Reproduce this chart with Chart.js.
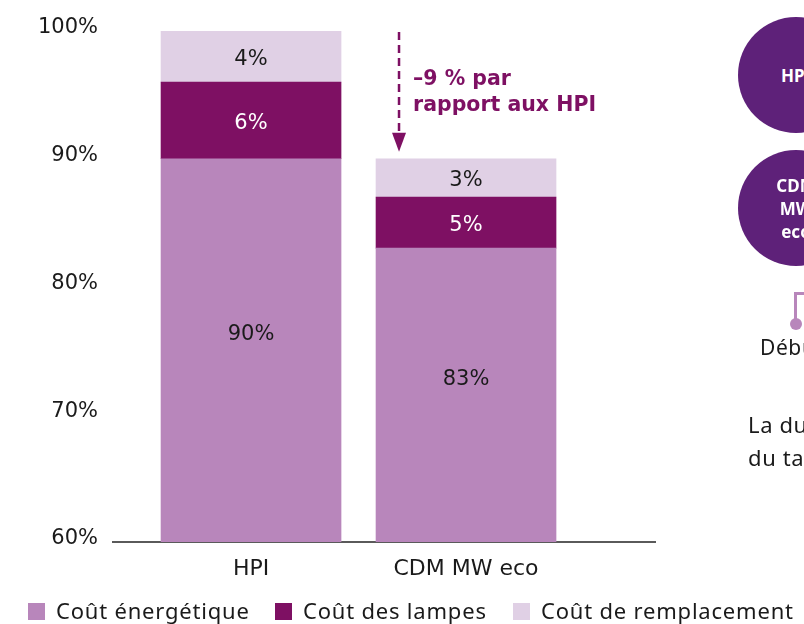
<!DOCTYPE html>
<html lang="fr">
<head>
<meta charset="utf-8">
<title>Coût total de possession : HPI / CDM MW eco</title>
<script src="https://cdn.jsdelivr.net/npm/chart.js@4"></script>
<style>
  html, body { margin: 0; padding: 0; background: #fff; }
  body {
    width: 804px; height: 624px; overflow: hidden; position: relative;
    font-family: 'Noto Sans', sans-serif; color: #1a1a1a;
  }
  #chart { position: absolute; left: 0; top: 0; }

  /* legend under the chart */
  .legend-item { position: absolute; top: 596px; font-size: 22px; line-height: 28px; letter-spacing: 0.8px; white-space: nowrap; }
  .legend-item .box { display: inline-block; width: 17px; height: 17px; margin-right: 11px; vertical-align: -1px; }

  /* cropped side panel of the original slide */
  .bulle {
    position: absolute; left: 738px; width: 116px; height: 116px; border-radius: 50%;
    background: #5e2179; color: #fff; font-weight: bold; font-size: 17px; line-height: 23px;
    display: flex; align-items: center; justify-content: center; text-align: center;
  }
  .connecteur {
    position: absolute; left: 794px; top: 292px; width: 20px; height: 28px;
    border-left: 3px solid #b886bb; border-top: 3px solid #b886bb;
  }
  .point { position: absolute; left: 790px; top: 318px; width: 12px; height: 12px; border-radius: 50%; background: #b886bb; }
  .cote { position: absolute; white-space: nowrap; letter-spacing: 0.6px; }
</style>
</head>
<body>
<canvas id="chart" width="804" height="624"></canvas>

<div class="legend-item" style="left:28px"><span class="box" style="background:#b886bb"></span>Coût énergétique</div>
<div class="legend-item" style="left:275px"><span class="box" style="background:#7e1063"></span>Coût des lampes</div>
<div class="legend-item" style="left:513px"><span class="box" style="background:#e0d0e5"></span>Coût de remplacement</div>

<div class="bulle" style="top:17px">HPI</div>
<div class="bulle" style="top:150px">CDM<br>MW<br>eco</div>
<div class="connecteur"></div>
<div class="point"></div>
<div class="cote" style="left:760px; top:333px; font-size:21px">Début</div>
<div class="cote" style="left:748px; top:408px; font-size:22px; line-height:33px">La durée<br>du taux</div>

<script>
// Categories and stacked shares (% of the HPI total cost)
const categories = ['HPI', 'CDM MW eco'];
const coutEnergetique = [90, 83];
const coutLampes = [6, 4];
const coutRemplacement = [4, 3];

// Labels printed inside the segments
const etiquettesEnergie = ['90%', '83%'];
const etiquettesLampes = ['6%', '5%'];
const etiquettesRemplacement = ['4%', '3%'];

const yTicks = [60, 70, 80, 90, 100];
const annotationLines = ['–9 % par', 'rapport aux HPI'];

const FONT = "'DejaVu Sans', sans-serif";

function toPoints(values) {
    return values.map((v, i) => ({ x: i, y: v }));
}

// Values written in the middle of every segment (visible part only)
const barLabels = {
    id: 'barLabels',
    afterDatasetsDraw(chart) {
        const ctx = chart.ctx;
        const area = chart.chartArea;
        ctx.save();
        ctx.font = '21px ' + FONT;
        ctx.textAlign = 'center';
        ctx.textBaseline = 'middle';
        chart.data.datasets.forEach((ds, di) => {
            chart.getDatasetMeta(di).data.forEach((bar, i) => {
                const p = bar.getProps(['x', 'y', 'base'], true);
                const base = Math.min(p.base, area.bottom);
                ctx.fillStyle = ds.labelColor;
                ctx.fillText(ds.valueLabels[i], p.x, (p.y + base) / 2 + ds.labelShift);
            });
        });
        ctx.restore();
    }
};

// Dashed arrow pointing at the CDM bar, with its caption
const gapArrow = {
    id: 'gapArrow',
    afterDraw(chart) {
        const ctx = chart.ctx;
        const yScale = chart.scales.y;
        const bar = chart.getDatasetMeta(2).data[1];
        const x = bar.x - bar.width / 2 + 23;
        const yTop = yScale.getPixelForValue(100) + 1;
        const yTip = yScale.getPixelForValue(coutEnergetique[1] + coutLampes[1] + coutRemplacement[1]) - 7;
        const color = '#7e1063';

        ctx.save();
        ctx.strokeStyle = color;
        ctx.fillStyle = color;
        ctx.lineWidth = 2.5;
        ctx.setLineDash([8, 5]);
        ctx.beginPath();
        ctx.moveTo(x, yTop);
        ctx.lineTo(x, yTip - 18);
        ctx.stroke();
        ctx.setLineDash([]);
        ctx.beginPath();
        ctx.moveTo(x - 7, yTip - 19);
        ctx.lineTo(x + 7, yTip - 19);
        ctx.lineTo(x, yTip);
        ctx.closePath();
        ctx.fill();

        ctx.font = 'bold 20.5px ' + FONT;
        ctx.textAlign = 'left';
        ctx.textBaseline = 'alphabetic';
        ctx.fillText(annotationLines[0], x + 14, 85);
        ctx.fillText(annotationLines[1], x + 14, 111);
        ctx.restore();
    }
};

new Chart(document.getElementById('chart'), {
    type: 'bar',
    data: {
        datasets: [
            {
                label: 'Coût énergétique',
                data: toPoints(coutEnergetique),
                backgroundColor: '#b886bb',
                valueLabels: etiquettesEnergie,
                labelColor: '#1a1a1a',
                labelShift: -16
            },
            {
                label: 'Coût des lampes',
                data: toPoints(coutLampes),
                backgroundColor: '#7e1063',
                valueLabels: etiquettesLampes,
                labelColor: '#ffffff',
                labelShift: 3
            },
            {
                label: 'Coût de remplacement',
                data: toPoints(coutRemplacement),
                backgroundColor: '#e0d0e5',
                valueLabels: etiquettesRemplacement,
                labelColor: '#1a1a1a',
                labelShift: 3
            }
        ]
    },
    options: {
        responsive: false,
        animation: false,
        layout: { padding: { top: 31, right: 149, left: 0, bottom: 0 } },
        datasets: { bar: { barThickness: 180 } },
        scales: {
            x: {
                type: 'linear',
                stacked: true,
                offset: false,
                min: -0.642,
                max: 1.879,
                afterBuildTicks: scale => {
                    scale.ticks = categories.map((c, i) => ({ value: i }));
                },
                afterFit: scale => { scale.height = 82; },
                grid: { display: false, offset: false },
                border: { display: true, color: '#5a5a5a', width: 2 },
                ticks: {
                    color: '#1a1a1a',
                    padding: 6,
                    font: { family: FONT, size: 22 },
                    callback: v => categories[v] || ''
                }
            },
            y: {
                stacked: true,
                min: 60,
                max: 100,
                afterBuildTicks: scale => {
                    scale.ticks = yTicks.map(v => ({ value: v }));
                },
                afterFit: scale => { scale.width = 113; },
                grid: { display: false },
                border: { display: false },
                ticks: {
                    color: '#1a1a1a',
                    padding: 7,
                    labelOffset: -3,
                    font: { family: FONT, size: 21 },
                    callback: v => v + '%'
                }
            }
        },
        plugins: {
            legend: { display: false },
            tooltip: { enabled: false }
        }
    },
    plugins: [barLabels, gapArrow]
});
</script>
</body>
</html>
